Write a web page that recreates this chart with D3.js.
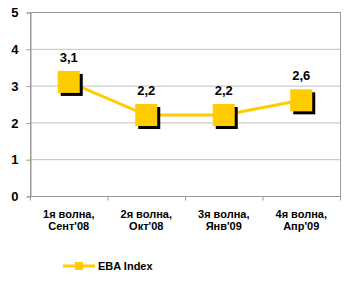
<!DOCTYPE html>
<html>
<head>
<meta charset="utf-8">
<script src="https://cdn.jsdelivr.net/npm/d3@7"></script>
<style>
body{margin:0;background:#fff;}
text{font-family:Arial,"Liberation Sans",sans-serif;font-weight:bold;fill:#000;}
</style>
</head>
<body>
<div id="chart"></div>
<script>
var categories = [["1я волна,","Сент'08"],["2я волна,","Окт'08"],["3я волна,","Янв'09"],["4я волна,","Апр'09"]];
var values = [3.1, 2.2, 2.2, 2.6];
var valueLabels = ["3,1","2,2","2,2","2,6"];
var yTicks = [0,1,2,3,4,5];
var seriesName = "EBA Index";

var w = 352, h = 284;
var plotLeft = 30, plotRight = 340, plotTop = 12, plotBottom = 196;
var gold = "#ffcc00";

var svg = d3.select("#chart").append("svg").attr("width", w).attr("height", h);

var x = d3.scaleBand().domain(d3.range(categories.length)).range([plotLeft, plotRight]);
var y = d3.scaleLinear().domain([0,5]).range([plotBottom, plotTop]);

// gridlines
svg.selectAll("line.grid").data(yTicks.slice(1, -1)).enter().append("line")
    .attr("x1", plotLeft).attr("x2", plotRight)
    .attr("y1", function(d){ return y(d) + 0.5; }).attr("y2", function(d){ return y(d) + 0.5; })
    .attr("stroke", "#c0c0c0").attr("stroke-width", 1);

// plot frame
svg.append("rect").attr("x", plotLeft + 0.5).attr("y", plotTop + 0.5)
    .attr("width", plotRight - plotLeft).attr("height", plotBottom - plotTop)
    .attr("fill", "none").attr("stroke", "#999").attr("stroke-width", 1);

// y axis
var yAxis = svg.append("g").attr("transform", "translate(" + (plotLeft + 0.5) + ",0.5)")
    .call(d3.axisLeft(y).tickValues(yTicks).tickFormat(d3.format("d")).tickSize(4).tickPadding(8));
yAxis.select(".domain").attr("stroke", "#999");
yAxis.selectAll(".tick line").attr("stroke", "#999");
yAxis.selectAll(".tick text").attr("font-size", 13).attr("font-family", "Arial").attr("font-weight", "bold").attr("fill", "#000");

// x axis ticks
var xAxis = svg.append("g").attr("transform", "translate(0," + (plotBottom + 0.5) + ")");
xAxis.selectAll("line.t").data(d3.range(categories.length + 1)).enter().append("line")
    .attr("x1", function(i){ return plotLeft + 0.5 + i * x.bandwidth(); })
    .attr("x2", function(i){ return plotLeft + 0.5 + i * x.bandwidth(); })
    .attr("y1", 0).attr("y2", 4).attr("stroke", "#999");
var xl = xAxis.selectAll("text").data(categories).enter().append("text")
    .attr("text-anchor", "middle").attr("font-size", 11);
xl.append("tspan").attr("y", 21).text(function(d){ return d[0]; })
    .attr("x", function(d, i){ return x(i) + x.bandwidth()/2; });
xl.append("tspan").attr("y", 33).text(function(d){ return d[1]; })
    .attr("x", function(d, i){ return x(i) + x.bandwidth()/2; });

// line
var cx = function(d, i){ return x(i) + x.bandwidth()/2; };
svg.append("path").datum(values)
    .attr("d", d3.line().x(cx).y(function(d){ return y(d); }))
    .attr("fill", "none").attr("stroke", gold).attr("stroke-width", 3);

// markers with shadow
var s = 22;
svg.selectAll("rect.shadow").data(values).enter().append("rect")
    .attr("x", function(d, i){ return cx(d, i) - s/2 + 3; })
    .attr("y", function(d){ return y(d) - s/2 + 3; })
    .attr("width", s).attr("height", s).attr("fill", "#000");
svg.selectAll("rect.mark").data(values).enter().append("rect")
    .attr("x", function(d, i){ return cx(d, i) - s/2; })
    .attr("y", function(d){ return y(d) - s/2; })
    .attr("width", s).attr("height", s).attr("fill", gold);

// value labels
svg.selectAll("text.val").data(values).enter().append("text")
    .attr("x", cx).attr("y", function(d){ return y(d) - 20; })
    .attr("text-anchor", "middle").attr("font-size", 13)
    .text(function(d, i){ return valueLabels[i]; });

// legend
svg.append("line").attr("x1", 63).attr("x2", 95).attr("y1", 266).attr("y2", 266)
    .attr("stroke", gold).attr("stroke-width", 3);
svg.append("rect").attr("x", 75).attr("y", 262).attr("width", 8).attr("height", 8).attr("fill", gold);
svg.append("text").attr("x", 98).attr("y", 270).attr("font-size", 11).text(seriesName);
</script>
</body>
</html>
